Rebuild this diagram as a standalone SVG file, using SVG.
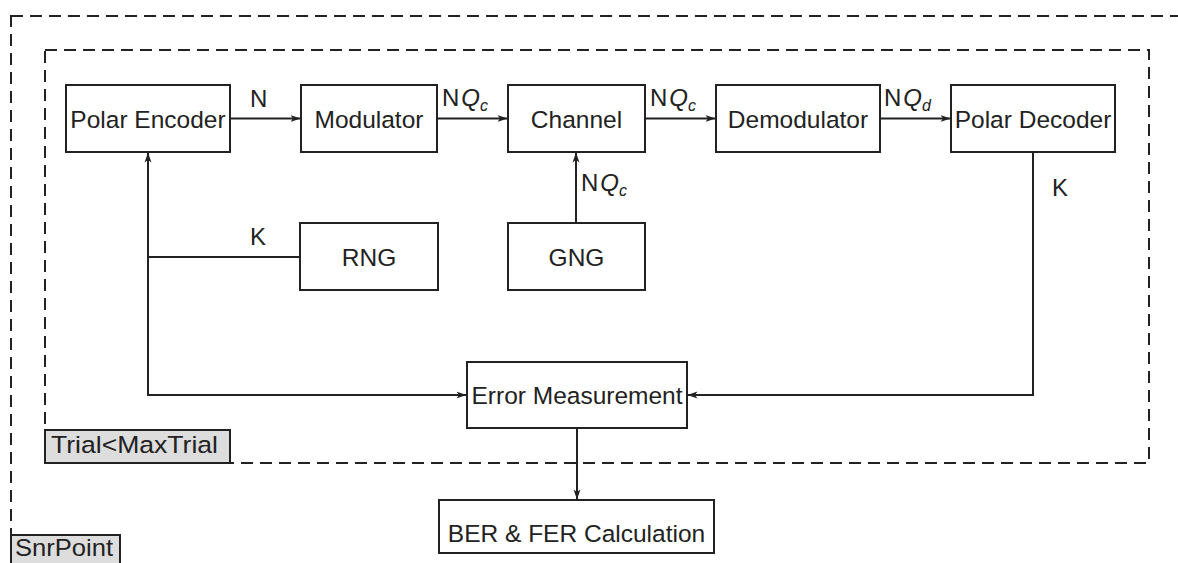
<svg xmlns="http://www.w3.org/2000/svg" width="1178" height="563" viewBox="0 0 1178 563">
  <style>
    .box { fill: #ffffff; stroke: #222; stroke-width: 2; }
    .frame { fill: none; stroke: #222; stroke-width: 2; stroke-dasharray: 12 7; }
    .tag { fill: #dddddd; stroke: #222; stroke-width: 2; }
    .wire { fill: none; stroke: #222; stroke-width: 2; }
    text { font-family: "Liberation Sans", Arial, sans-serif; font-size: 24.5px; fill: #222; }
    .lbl { font-size: 24px; }
    .it { font-style: italic; }
    .sub { font-size: 16px; font-style: italic; }
  </style>
  <defs>
    <marker id="arrow" viewBox="0 0 10 10" refX="9.5" refY="5" markerWidth="10" markerHeight="10" markerUnits="userSpaceOnUse" orient="auto">
      <path d="M0,1.5 L10,5 L0,8.5 L2.5,5 Z" fill="#222"/>
    </marker>
  </defs>

  <!-- loop frames -->
  <g id="snr-loop">
    <rect class="frame" x="11" y="16" width="1220" height="600"/>
    <rect class="tag" x="11" y="535" width="109" height="30"/>
    <text x="15" y="556" textLength="98" lengthAdjust="spacingAndGlyphs">SnrPoint</text>
  </g>
  <g id="trial-loop">
    <rect class="frame" x="45" y="50" width="1104" height="413"/>
    <rect class="tag" x="45" y="430" width="185" height="33"/>
    <text x="51" y="453" textLength="167" lengthAdjust="spacingAndGlyphs">Trial&lt;MaxTrial</text>
  </g>

  <!-- connectors -->
  <g id="connectors">
    <line class="wire" x1="230" y1="118.5" x2="300" y2="118.5" marker-end="url(#arrow)"/>
    <line class="wire" x1="437" y1="118.5" x2="507" y2="118.5" marker-end="url(#arrow)"/>
    <line class="wire" x1="645" y1="118.5" x2="715" y2="118.5" marker-end="url(#arrow)"/>
    <line class="wire" x1="880" y1="118.5" x2="950" y2="118.5" marker-end="url(#arrow)"/>
    <line class="wire" x1="576" y1="223" x2="576" y2="153" marker-end="url(#arrow)"/>
    <line class="wire" x1="300" y1="257" x2="148" y2="257"/>
    <polyline class="wire" points="467,395 148,395 148,153" marker-end="url(#arrow)"/>
    <line class="wire" x1="148" y1="395" x2="466" y2="395" marker-end="url(#arrow)"/>
    <polyline class="wire" points="1033,152 1033,395 688,395" marker-end="url(#arrow)"/>
    <line class="wire" x1="577" y1="428" x2="577" y2="499" marker-end="url(#arrow)"/>

    <text class="lbl" x="250" y="107">N</text>
    <text class="lbl" x="442" y="106">N<tspan class="it" dx="2">Q</tspan><tspan class="sub" dy="5">c</tspan></text>
    <text class="lbl" x="650" y="106">N<tspan class="it" dx="2">Q</tspan><tspan class="sub" dy="5">c</tspan></text>
    <text class="lbl" x="884" y="106">N<tspan class="it" dx="2">Q</tspan><tspan class="sub" dy="5">d</tspan></text>
    <text class="lbl" x="581" y="191">N<tspan class="it" dx="2">Q</tspan><tspan class="sub" dy="5">c</tspan></text>
    <text class="lbl" x="250" y="245">K</text>
    <text class="lbl" x="1052" y="196">K</text>
  </g>

  <!-- processing blocks -->
  <g id="polar-encoder">
    <rect class="box" x="66" y="85" width="164" height="67"/>
    <text x="148" y="128" text-anchor="middle">Polar Encoder</text>
  </g>
  <g id="modulator">
    <rect class="box" x="301" y="85" width="136" height="67"/>
    <text x="369" y="128" text-anchor="middle">Modulator</text>
  </g>
  <g id="channel">
    <rect class="box" x="508" y="85" width="137" height="67"/>
    <text x="576.5" y="128" text-anchor="middle">Channel</text>
  </g>
  <g id="demodulator">
    <rect class="box" x="716" y="85" width="164" height="67"/>
    <text x="798" y="128" text-anchor="middle">Demodulator</text>
  </g>
  <g id="polar-decoder">
    <rect class="box" x="951" y="85" width="164" height="67"/>
    <text x="1033" y="128" text-anchor="middle">Polar Decoder</text>
  </g>
  <g id="rng">
    <rect class="box" x="300" y="223" width="138" height="67"/>
    <text x="369" y="266" text-anchor="middle">RNG</text>
  </g>
  <g id="gng">
    <rect class="box" x="508" y="223" width="137" height="67"/>
    <text x="576.5" y="266" text-anchor="middle">GNG</text>
  </g>
  <g id="error-measurement">
    <rect class="box" x="467" y="362" width="220" height="66"/>
    <text x="577" y="404" text-anchor="middle">Error Measurement</text>
  </g>
  <g id="ber-fer">
    <rect class="box" x="439" y="500" width="275" height="53"/>
    <text x="576.5" y="542" text-anchor="middle">BER &amp; FER Calculation</text>
  </g>
</svg>
